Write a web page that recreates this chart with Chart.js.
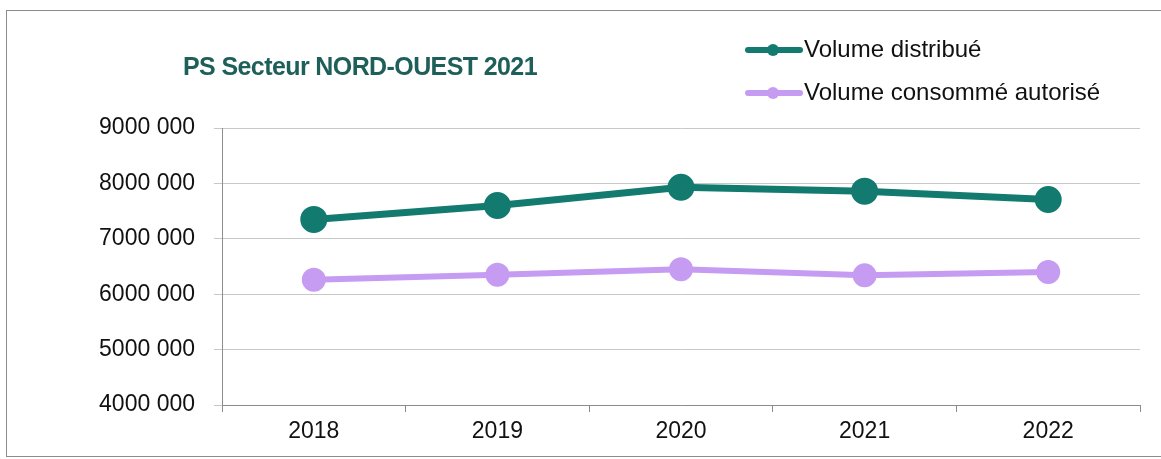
<!DOCTYPE html>
<html>
<head>
<meta charset="utf-8">
<script src="https://cdn.jsdelivr.net/npm/chart.js@4/dist/chart.umd.min.js"></script>
<style>
  html, body { margin: 0; padding: 0; background: #fff; }
  #wrap { position: relative; width: 1161px; height: 459px; overflow: hidden; }
  #frame {
    position: absolute; left: 6px; top: 10px; width: 1160px; height: 447px;
    border: 1px solid #8c8c8c; border-right: none; box-sizing: border-box; pointer-events: none;
  }
  #title {
    position: absolute; left: 183px; top: 51px;
    font: bold 25px "Liberation Sans", Arial, sans-serif; color: #1e5f5a;
    letter-spacing: -0.6px; line-height: 30px; white-space: nowrap;
  }
  #legend { position: absolute; left: 745px; top: 35px;
    font: 24px "Liberation Sans", Arial, sans-serif; color: #111; }
  .item { position: relative; height: 43px; line-height: 28px; padding-left: 59px; white-space: nowrap; }
  .item .ln { position: absolute; left: 0; top: 12px; width: 58px; height: 6px; border-radius: 3px; }
  .item .dt { position: absolute; left: 22px; top: 9px; width: 12px; height: 12px; border-radius: 6px; }
</style>
</head>
<body>
<div id="wrap">
  <canvas id="chart" width="1161" height="459"></canvas>
  <div id="frame"></div>
  <div id="title">PS Secteur NORD-OUEST 2021</div>
  <div id="legend"></div>
</div>
<script>
const years = ["2018", "2019", "2020", "2021", "2022"];
const volumeDistribue = [7350000, 7600000, 7930000, 7860000, 7710000];
const volumeConsomme = [6260000, 6350000, 6450000, 6340000, 6400000];
const seriesNames = ["Volume distribué", "Volume consommé autorisé"];
const seriesColors = ["#137a6f", "#c59cf2"];

// legend built from the series names/colours
const legendBox = document.getElementById("legend");
seriesNames.forEach((name, i) => {
  const item = document.createElement("div");
  item.className = "item";
  item.innerHTML =
    '<span class="ln" style="background:' + seriesColors[i] + '"></span>' +
    '<span class="dt" style="background:' + seriesColors[i] + '"></span>' + name;
  legendBox.appendChild(item);
});

const tickFont = { family: "'Liberation Sans', Arial, sans-serif", size: 23 };

new Chart(document.getElementById("chart").getContext("2d"), {
  type: "line",
  data: {
    labels: years,
    datasets: [
      {
        label: seriesNames[0],
        data: volumeDistribue,
        borderColor: seriesColors[0],
        backgroundColor: seriesColors[0],
        borderWidth: 7,
        pointRadius: 10,
        pointHoverRadius: 10,
        tension: 0,
      },
      {
        label: seriesNames[1],
        data: volumeConsomme,
        borderColor: seriesColors[1],
        backgroundColor: seriesColors[1],
        borderWidth: 6,
        pointRadius: 9,
        pointHoverRadius: 9,
        tension: 0,
      },
    ],
  },
  options: {
    responsive: false,
    animation: false,
    layout: { padding: { top: 128, right: 21, left: 0, bottom: 0 } },
    plugins: {
      legend: { display: false },
      title: { display: false },
      tooltip: { enabled: false },
    },
    scales: {
      x: {
        offset: true,
        afterFit: (scale) => { scale.height = 54; },
        grid: {
          offset: true,
          drawOnChartArea: false,
          drawTicks: true,
          tickLength: 7,
          color: "#8c8c8c",
        },
        border: { color: "#8c8c8c", width: 1 },
        ticks: { color: "#111", font: tickFont, padding: 6 },
      },
      y: {
        min: 4000000,
        max: 9000000,
        afterFit: (scale) => { scale.width = 222; },
        grid: { color: "#c8c8c8", tickLength: 8, drawTicks: true },
        border: { color: "#8c8c8c", width: 1 },
        ticks: {
          stepSize: 1000000,
          color: "#111",
          font: tickFont,
          padding: 19,
          callback: (v) => Math.round(v / 1000) + " 000",
        },
      },
    },
  },
});
</script>
</body>
</html>
